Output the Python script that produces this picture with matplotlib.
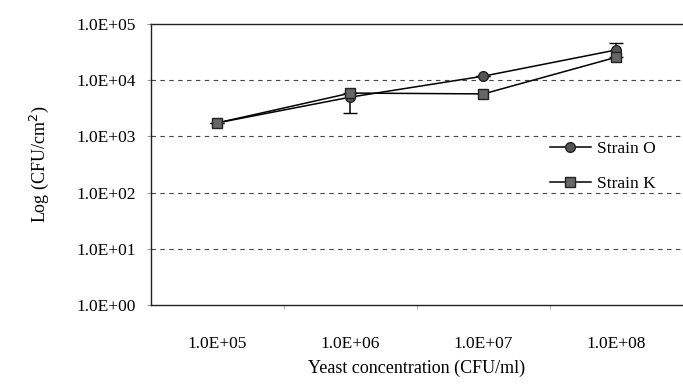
import matplotlib
matplotlib.use("Agg")
import matplotlib.pyplot as plt
import numpy as np

plt.rcParams['font.family'] = ['Liberation Serif', 'DejaVu Serif']

categories = ["1.0E+05", "1.0E+06", "1.0E+07", "1.0E+08"]
strain_o = [1740, 5000, 11800, 34600]
strain_o_err_low = [0, 2400, 0, 9000]
strain_o_err_high = [0, 1000, 0, 11400]
strain_k = [1740, 5900, 5700, 25700]
y_ticks = [1e0, 1e1, 1e2, 1e3, 1e4, 1e5]
y_labels = ["1.0E+00", "1.0E+01", "1.0E+02", "1.0E+03", "1.0E+04", "1.0E+05"]

fig = plt.figure(figsize=(6.83, 3.87), dpi=100)
ax = fig.add_axes([0.221, 0.212, 0.779, 0.726])

x = np.arange(len(categories))

ax.errorbar(x, strain_o, yerr=[strain_o_err_low, strain_o_err_high], fmt="none",
            ecolor="black", capsize=5, elinewidth=1.1, zorder=2)
ax.plot(x, strain_o, color="black", lw=1.1, marker="o", ms=7,
        mfc="#555555", mec="#222222", label="Strain O", zorder=3)
ax.plot(x, strain_k, color="black", lw=1.1, marker="s", ms=7,
        mfc="#666666", mec="#222222", label="Strain K", zorder=4)

ax.set_yscale("log")
ax.set_ylim(1, 1e5)
ax.set_xlim(-0.5, len(categories) - 0.5)
ax.set_yticks(y_ticks)
ax.set_yticklabels(y_labels)
ax.minorticks_off()
ax.set_xticks(x)
ax.set_xticklabels(categories)
ax.set_xticks(np.arange(0.5, len(categories) - 0.5), minor=True)
ax.tick_params(axis="x", which="major", length=0, pad=22, labelsize=12.5)
ax.tick_params(axis="x", which="minor", length=3, direction="out", color="#999999")
ax.tick_params(axis="y", length=3, direction="out", color="#999999", labelsize=12.5, pad=8)

for v in y_ticks[1:-1]:
    ax.axhline(v, color="#444444", lw=0.8, ls=(0, (4, 4)), zorder=1)

ax.spines["right"].set_visible(False)
for s in ["left", "top", "bottom"]:
    ax.spines[s].set_color("#222222")
    ax.spines[s].set_linewidth(1.0)

ax.set_xlabel("Yeast concentration (CFU/ml)", fontsize=13, labelpad=6)
ax.set_ylabel("Log (CFU/cm$^2$)", fontsize=13, labelpad=18)

leg = ax.legend(loc="upper left", bbox_to_anchor=(0.72, 0.64), frameon=False,
                fontsize=12.5, handlelength=2.4, handletextpad=0.3,
                labelspacing=1.1)

fig.savefig("out.png", dpi=100)
